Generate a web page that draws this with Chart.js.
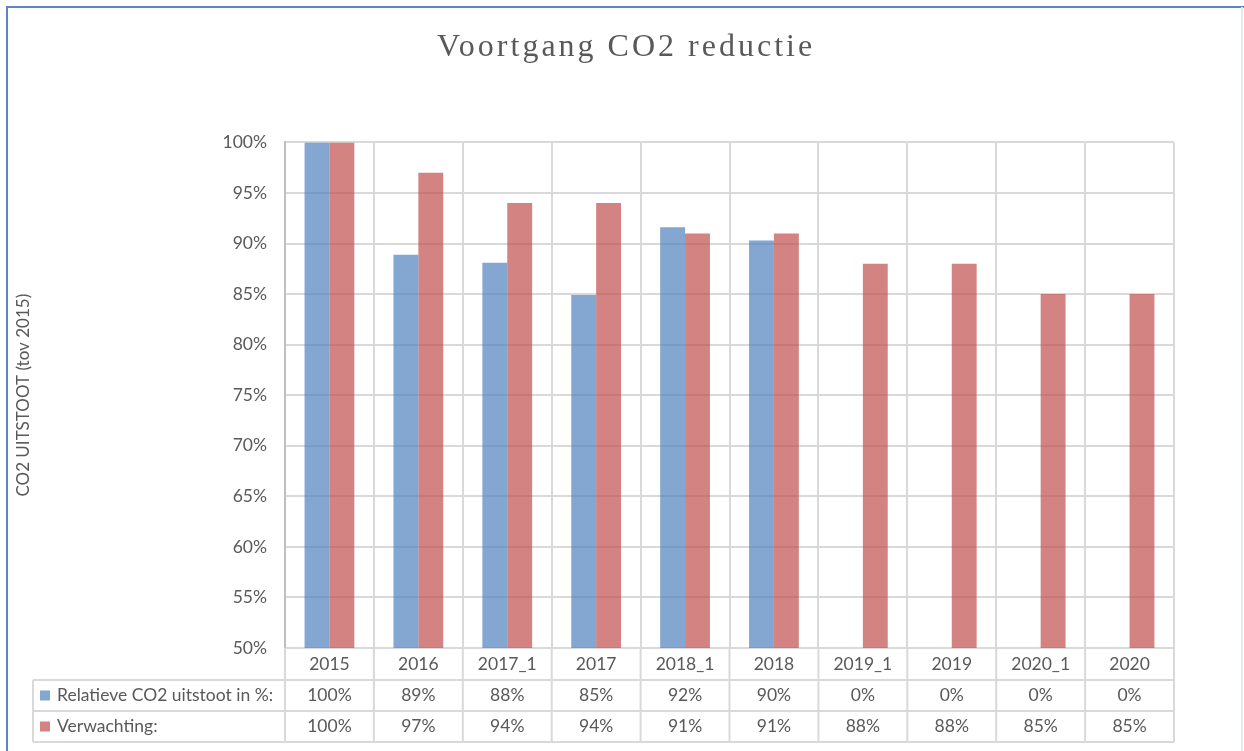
<!DOCTYPE html>
<html>
<head>
<meta charset="utf-8">
<script src="https://cdn.jsdelivr.net/npm/chart.js@4"></script>
<style>
html,body{margin:0;padding:0;background:#fff;}
#wrap{width:1244px;height:751px;position:relative;}
</style>
</head>
<body>
<div id="wrap"><canvas id="c" width="1244" height="751"></canvas></div>
<script>
const categories = ['2015','2016','2017_1','2017','2018_1','2018','2019_1','2019','2020_1','2020'];
const relatieve = [100, 88.9, 88.1, 84.9, 91.6, 90.3, 0, 0, 0, 0];
const verwachting = [100, 97, 94, 94, 91, 91, 88, 88, 85, 85];
const seriesNames = ['Relatieve CO2 uitstoot in %:', 'Verwachting:'];
const chartTitle = 'Voortgang CO2 reductie';
const yTitle = 'CO2 UITSTOOT (tov 2015)';

const BLUE = 'rgba(79,129,189,0.7)';
const RED = 'rgba(192,80,77,0.7)';
const GRID = '#D9D9D9';
const TEXT = '#595959';
const FONT = 'Lato, "Open Sans", sans-serif';
const FS = 17.5;

const tablePlugin = {
  id: 'dataTable',
  afterDraw(chart) {
    const ctx = chart.ctx;
    const x = chart.scales.x;
    const area = chart.chartArea;
    const n = categories.length;
    const w = (x.right - x.left) / n;
    const top = area.bottom;
    const r1 = top + 32, r2 = r1 + 31, r3 = r2 + 31;
    const tableLeft = 33;
    ctx.save();
    ctx.strokeStyle = GRID;
    ctx.lineWidth = 2;
    ctx.beginPath();
    [r1, r2, r3].forEach(y => { ctx.moveTo(tableLeft, y); ctx.lineTo(x.right, y); });
    ctx.moveTo(tableLeft, r1); ctx.lineTo(tableLeft, r3);
    for (let i = 0; i <= n; i++) {
      const xx = x.left + i * w;
      ctx.moveTo(xx, top); ctx.lineTo(xx, r3);
    }
    ctx.stroke();
    ctx.fillStyle = TEXT;
    ctx.font = FS + 'px ' + FONT;
    ctx.textBaseline = 'middle';
    const rows = [[relatieve, BLUE, (r1 + r2) / 2], [verwachting, RED, (r2 + r3) / 2]];
    rows.forEach((row, ri) => {
      const [vals, col, cy] = row;
      ctx.fillStyle = col;
      ctx.fillRect(40, cy - 5, 10, 10);
      ctx.fillStyle = TEXT;
      ctx.textAlign = 'left';
      ctx.fillText(seriesNames[ri], 57, cy);
      ctx.textAlign = 'center';
      vals.forEach((v, i) => {
        ctx.fillText(Math.round(v) + '%', x.getPixelForValue(i), cy);
      });
    });
    ctx.lineWidth = 2;
    ctx.strokeStyle = '#5B86C0';
    ctx.beginPath();
    ctx.moveTo(7, 751); ctx.lineTo(7, 7); ctx.lineTo(1244, 7);
    ctx.stroke();
    ctx.strokeStyle = '#E3EAF3';
    ctx.beginPath();
    ctx.moveTo(1242, 7); ctx.lineTo(1242, 751);
    ctx.stroke();
    ctx.restore();
  }
};

const chart = new Chart(document.getElementById('c'), {
  type: 'bar',
  data: {
    labels: categories,
    datasets: [
      { label: seriesNames[0], data: relatieve.map(v => v === 0 ? null : v), backgroundColor: BLUE, borderWidth: 0 },
      { label: seriesNames[1], data: verwachting, backgroundColor: RED, borderWidth: 0 }
    ]
  },
  options: {
    responsive: false,
    animation: false,
    maintainAspectRatio: false,
    layout: { padding: { left: 0, right: 70, top: 0, bottom: 0 } },
    datasets: { bar: { categoryPercentage: 0.56, barPercentage: 1.0 } },
    plugins: {
      legend: { display: false },
      tooltip: { enabled: false },
      title: {
        display: true,
        text: chartTitle,
        color: TEXT,
        font: { family: '"Liberation Serif", serif', size: 32, weight: 'normal' },
        padding: { top: 28, bottom: 76 }
      }
    },
    scales: {
      x: {
        offset: true,
        grid: { color: GRID, lineWidth: 2, drawTicks: false, offset: true },
        border: { color: GRID, width: 2 },
        ticks: { color: TEXT, font: { family: FONT, size: FS }, padding: 6, maxRotation: 0 },
        afterFit(scale) { scale.height = 103; }
      },
      y: {
        min: 50, max: 100,
        grid: { color: GRID, lineWidth: 2, drawTicks: false },
        border: { color: '#BFBFBF', width: 2 },
        ticks: { stepSize: 5, color: TEXT, font: { family: FONT, size: FS }, padding: 18, callback: v => v + '%' },
        title: { display: true, text: yTitle, color: TEXT, font: { family: FONT, size: 17 }, padding: { top: 13, bottom: 0 } },
        afterFit(scale) { scale.width = 285; }
      }
    }
  },
  plugins: [tablePlugin]
});
if (chart.titleBlock) {
  const origDraw = chart.titleBlock.draw;
  chart.titleBlock.draw = function() {
    const ctx = this.ctx;
    ctx.save();
    ctx.letterSpacing = '3px';
    ctx.translate(39, 0);
    origDraw.apply(this, arguments);
    ctx.restore();
  };
  chart.draw();
}
</script>
</body>
</html>
